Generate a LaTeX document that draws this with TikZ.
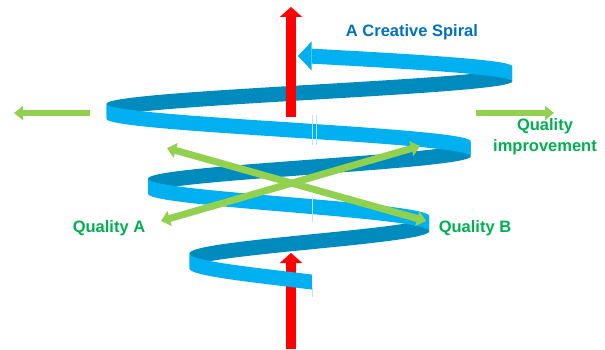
\documentclass[tikz,border=0pt]{standalone}
\usepackage{fontspec}
\setmainfont{Liberation Sans}
\usetikzlibrary{arrows.meta}
\definecolor{spirallight}{RGB}{0,176,240}
\definecolor{spiraldark}{RGB}{0,139,190}
\definecolor{titleblue}{RGB}{0,112,192}
\definecolor{labelgreen}{RGB}{0,176,80}
\definecolor{arrowgreen}{RGB}{146,208,80}
\newcommand{\ribbon}[3]{\fill[#3] plot[domain=#1:#2] ({sx(\x)},{sy(\x)}) -- plot[domain=#2:#1] ({sx(\x)},{sy(\x)+15}) -- cycle;}

\begin{document}
\begin{tikzpicture}[x=1pt,y=-1pt,samples=90,
	declare function={sr(\t)=213-0.1152*\t; sx(\t)=299+sr(\t)*cos(\t); sy(\t)=48+0.208333*(\t+90);}]
\tikzstyle{every node}=[font=\bfseries\fontsize{16.5}{21}\selectfont]
\tikzstyle{axisarrow}=[red, line width=10pt, -{Triangle[width=22pt,length=10pt]}]
\tikzstyle{qualityarrow}=[arrowgreen, line width=7pt, {Triangle[width=15pt,length=9pt]}-{Triangle[width=15pt,length=9pt]}]
\tikzstyle{sidearrow}=[arrowgreen, line width=6.5pt, -{Triangle[width=14pt,length=9pt]}]
\tikzstyle{seam}=[spirallight!30, line width=0.6pt]
\useasboundingbox (0,0) rectangle (605,350);

\ribbon{0}{180}{spiraldark}
\ribbon{360}{540}{spiraldark}
\ribbon{720}{900}{spiraldark}

\coordinate (topfoot) at (291,117);
\coordinate (toptip) at (291,7);
\coordinate (lowfoot) at (291,349);
\coordinate (lowtip) at (291,253);
\draw[axisarrow] (topfoot) -- (toptip);
\draw[axisarrow] (lowfoot) -- (lowtip);

\ribbon{-86.7}{0}{spirallight}
\ribbon{180}{360}{spirallight}
\ribbon{540}{720}{spirallight}
\ribbon{900}{997.5}{spirallight}
\fill[spirallight] (311.5,41.5) -- (298,56) -- (311.5,70.5) -- cycle;

\draw[seam] (312,115) -- (312,145);
\draw[seam] (316,115) -- (316,145);
\draw[seam] (312,197) -- (312,222);
\draw[seam] (312,288) -- (312,297);

\coordinate (leftstart) at (90,113);
\coordinate (leftend) at (14,113);
\coordinate (rightstart) at (476,113);
\coordinate (rightend) at (554,113);
\draw[sidearrow] (leftstart) -- (leftend);
\draw[sidearrow] (rightstart) -- (rightend);

\coordinate (crossNW) at (167,148);
\coordinate (crossSE) at (426,221);
\coordinate (crossSW) at (161,221);
\coordinate (crossNE) at (420,146);
\draw[qualityarrow] (crossNW) -- (crossSE);
\draw[qualityarrow] (crossSW) -- (crossNE);

\node[titleblue] (spiraltitle) at (412,32) {A Creative Spiral};
\node[labelgreen, align=center] (improvelabel) at (545,137) {Quality\\improvement};
\node[labelgreen] (qualityA) at (109,228) {Quality A};
\node[labelgreen] (qualityB) at (475,228) {Quality B};
\end{tikzpicture}
\end{document}
